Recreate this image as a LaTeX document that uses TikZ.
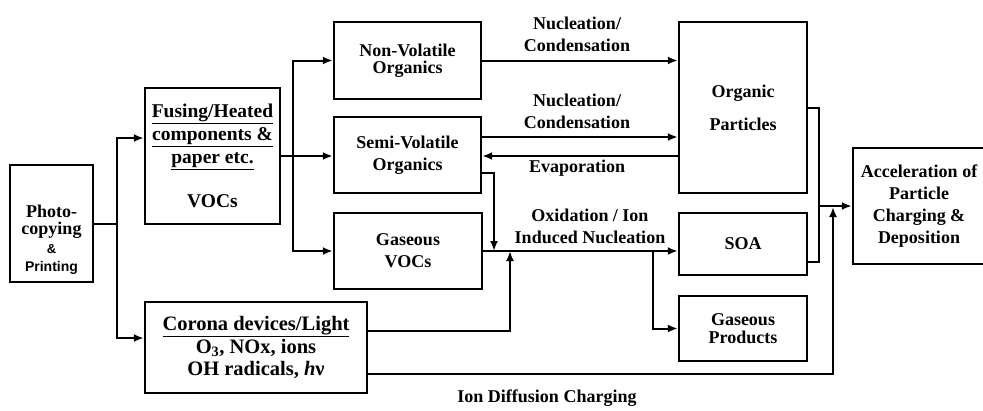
\documentclass[tikz,border=0pt]{standalone}
\usepackage{fontspec}
\setmainfont{Liberation Serif}
\newfontfamily\sansf{Liberation Sans}
\usetikzlibrary{arrows.meta}
\begin{document}
\begin{tikzpicture}[x=1pt,y=-1pt,
  box/.style={draw,line width=2.4pt,inner sep=0pt,align=center,font=\bfseries\fontsize{18}{22}\selectfont},
  lbl/.style={align=center,inner sep=0pt,font=\bfseries\fontsize{18}{22}\selectfont},
  conn/.style={line width=2pt},
  arr/.style={conn,-{Latex[length=10pt,width=8pt]}}]
\useasboundingbox[fill=white] (0,0) rectangle (983,410);

% boxes
\node[box,minimum width=83pt,minimum height=117pt] (photo) at (51.5,223.5) {};
\node[lbl] (phototext) at (51.5,240) {Photo-\\[-5pt]copying\\[-3pt]{\sansf\fontsize{13}{15}\selectfont\&}\\[-4pt]{\sansf\fontsize{14}{16}\selectfont Printing}};
\node[box,minimum width=135pt,minimum height=136pt,font=\bfseries\fontsize{19.5}{23}\selectfont] (fusing) at (212.5,156)
  {\underline{Fusing/Heated}\\\underline{components \&}\\\underline{paper etc.}\\[21pt]VOCs};
\node[box,minimum width=222pt,minimum height=91pt,font=\bfseries\fontsize{20.5}{22.5}\selectfont] (corona) at (256,347.5)
  {\underline{Corona devices/Light}\\O\textsubscript{3}, NOx, ions\\OH radicals, \textit{h}ν};
\node[box,minimum width=147pt,minimum height=77pt] (nv) at (407.5,60.5) {Non-Volatile\\[-5pt]Organics};
\node[box,minimum width=147pt,minimum height=76pt] (sv) at (407.5,155) {Semi-Volatile\\Organics};
\node[box,minimum width=148pt,minimum height=76pt] (gv) at (408,251) {Gaseous\\VOCs};
\node[box,minimum width=128pt,minimum height=171pt] (op) at (743,107.5) {Organic\\[11pt]Particles};
\node[box,minimum width=128pt,minimum height=62pt] (soa) at (743,244) {SOA};
\node[box,minimum width=128pt,minimum height=65pt] (gp) at (743,328.5) {Gaseous\\[-4pt]Products};
\node[box,minimum width=132pt,minimum height=116pt] (acc) at (919,206) {Acceleration of\\Particle\\Charging \&\\Deposition};

% labels
\node[lbl] (l1) at (577,34) {Nucleation/\\Condensation};
\node[lbl] (l2) at (577,111) {Nucleation/\\Condensation};
\node[lbl] (l3) at (577,168) {Evaporation};
\node[lbl] (l4) at (590,226) {Oxidation / Ion\\Induced Nucleation};
\node[lbl] (l5) at (547,398) {Ion Diffusion Charging};

% junction points
\coordinate (b1) at (117,223.5);
\coordinate (b2) at (293,156);
\coordinate (j1) at (494,251);
\coordinate (j2) at (510,251);
\coordinate (b3) at (653,251);
\coordinate (j4) at (833,207);
\coordinate (b4) at (819,206);

% connectors
\draw[conn] (photo.east) -- (b1);
\draw[arr] (b1) |- ([yshift=18pt]fusing.west);
\draw[arr] (b1) |- ([yshift=9.5pt]corona.west);
\draw[conn] (fusing.east) -- (b2);
\draw[arr] (b2) |- (nv.west);
\draw[arr] (b2) -- (b2 -| sv.west);
\draw[arr] (b2) |- (gv.west);
\draw[arr] (nv.east) -- (nv.east -| op.west);
\draw[arr] ([yshift=18pt]sv.east) -- ([yshift=18pt]sv.east -| op.west);
\draw[arr] ([yshift=-1pt]sv.east -| op.west) -- ([yshift=-1pt]sv.east);
\draw[arr] ([yshift=-18pt]sv.east) -| (j1);
\draw[arr] (gv.east) -- (gv.east -| soa.west);
\draw[arr] (b3) |- (gp.west);
\draw[arr] ([yshift=16.5pt]corona.east) -| (j2);
\draw[arr] ([yshift=-26.5pt]corona.east) -| (j4);
\draw[conn] (op.east) -| (b4) |- ([yshift=-18pt]soa.east);
\draw[arr] (b4) -- (acc.west);
\end{tikzpicture}
\end{document}
